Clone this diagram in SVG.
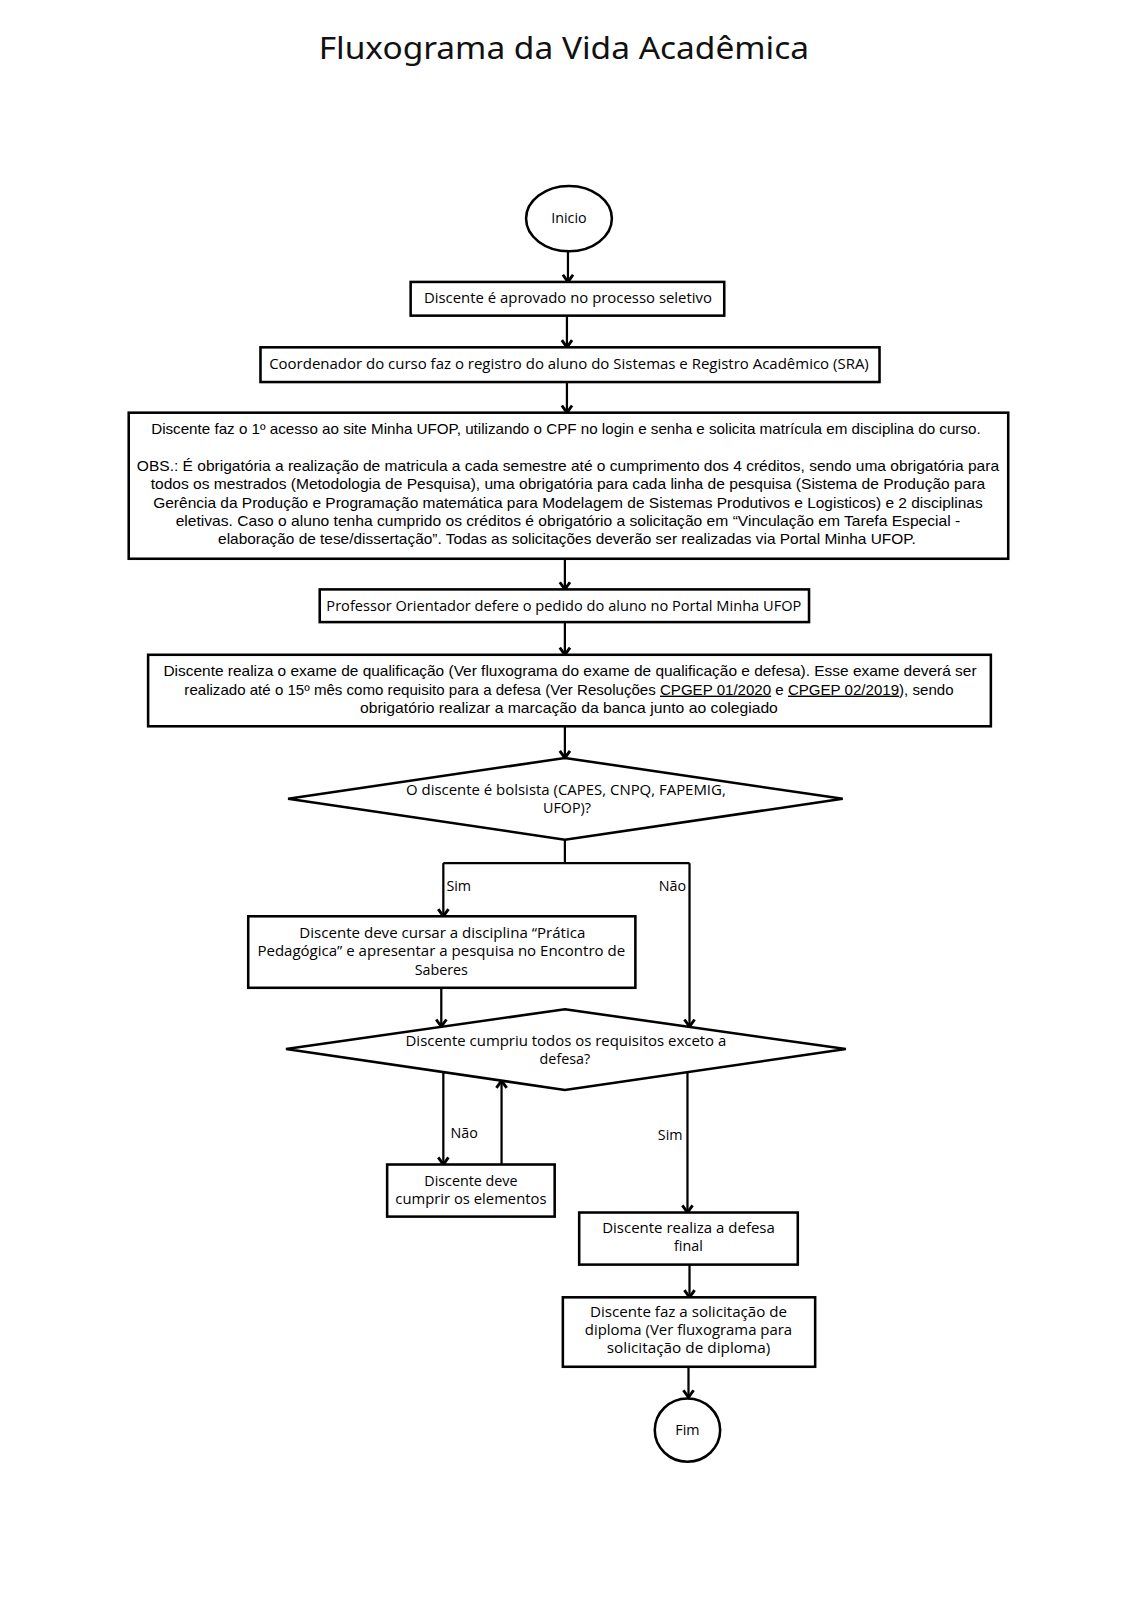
<svg xmlns="http://www.w3.org/2000/svg" width="1131" height="1600" viewBox="0 0 1131 1600">
<style>
.bg{fill:#ffffff}
.box{fill:#ffffff;stroke:#000;stroke-width:2.5}
.t{font-family:"Open Sans","Liberation Sans",Arial,sans-serif;font-size:14px;fill:#000;text-anchor:middle}
.t2{font-family:"Liberation Sans",Arial,sans-serif;font-size:13.5px;fill:#000;text-anchor:middle}
.lbl{font-family:"Open Sans","Liberation Sans",Arial,sans-serif;font-size:14px;fill:#000}
.title{font-family:"Noto Sans",sans-serif;font-size:30px;fill:#111;text-anchor:middle}
.c{fill:none;stroke:#000;stroke-width:2.2}
.a{marker-end:url(#arr)}
</style>
<defs>
<marker id="arr" markerUnits="userSpaceOnUse" markerWidth="14" markerHeight="14" refX="8" refY="6" orient="auto" overflow="visible">
<path d="M1,1 L8,6 L1,11" fill="none" stroke="#000" stroke-width="2.8"/>
</marker>
</defs>
<rect class="bg" x="0" y="0" width="1131" height="1600"/>
<g transform="scale(1.0215)">
<text class="title" x="552" y="58" textLength="480" lengthAdjust="spacingAndGlyphs">Fluxograma da Vida Acadêmica</text>

<g id="connectors">
<path class="c a" d="M556,246 V276"/>
<path class="c a" d="M555,309 V340"/>
<path class="c a" d="M555,374 V404"/>
<path class="c a" d="M553,547 V577"/>
<path class="c a" d="M553,609 V641"/>
<path class="c a" d="M553,711 V742"/>
<path class="c" d="M553,822 V845"/>
<path class="c" d="M434,845 H675"/>
<path class="c a" d="M434,845 V897"/>
<path class="c a" d="M675,845 V1005"/>
<path class="c a" d="M432,967 V1005"/>
<path class="c a" d="M434,1050 V1140"/>
<path class="c a" d="M491,1140 V1058"/>
<path class="c a" d="M673,1050 V1187"/>
<path class="c a" d="M675,1238 V1270"/>
<path class="c a" d="M674,1338 V1368"/>
<text class="lbl" x="437" y="872">Sim</text>
<text class="lbl" x="645" y="872">Não</text>
<text class="lbl" x="441" y="1114">Não</text>
<text class="lbl" x="644" y="1116">Sim</text>
</g>

<g id="inicio">
<ellipse class="box" cx="557" cy="214" rx="42" ry="32"/>
<text class="t" x="557" y="218.5">Inicio</text>
</g>

<g id="aprovado">
<rect class="box" x="402" y="276" width="307" height="33"/>
<text class="t" x="556" y="297" textLength="282" lengthAdjust="spacingAndGlyphs">Discente é aprovado no processo seletivo</text>
</g>

<g id="registro">
<rect class="box" x="255" y="340" width="606" height="34"/>
<text class="t" x="557" y="361" textLength="587" lengthAdjust="spacingAndGlyphs">Coordenador do curso faz o registro do aluno do Sistemas e Registro Acadêmico (SRA)</text>
</g>

<g id="acesso">
<rect class="box" x="126" y="404" width="861" height="143"/>
<text class="t2" x="554" y="425" textLength="812" lengthAdjust="spacingAndGlyphs">Discente faz o 1º acesso ao site Minha UFOP, utilizando o CPF no login e senha e solicita matrícula em disciplina do curso.</text>
<text class="t2" x="556" y="461" textLength="844" lengthAdjust="spacingAndGlyphs">OBS.: É obrigatória a realização de matricula a cada semestre até o cumprimento dos 4 créditos, sendo uma obrigatória para</text>
<text class="t2" x="556" y="479" textLength="817" lengthAdjust="spacingAndGlyphs">todos os mestrados (Metodologia de Pesquisa), uma obrigatória para cada linha de pesquisa (Sistema de Produção para</text>
<text class="t2" x="556" y="497" textLength="812" lengthAdjust="spacingAndGlyphs">Gerência da Produção e Programação matemática para Modelagem de Sistemas Produtivos e Logisticos) e 2 disciplinas</text>
<text class="t2" x="556" y="515" textLength="768" lengthAdjust="spacingAndGlyphs">eletivas. Caso o aluno tenha cumprido os créditos é obrigatório a solicitação em “Vinculação em Tarefa Especial -</text>
<text class="t2" x="555" y="533" textLength="683" lengthAdjust="spacingAndGlyphs">elaboração de tese/dissertação”. Todas as solicitações deverão ser realizadas via Portal Minha UFOP.</text>
</g>

<g id="professor">
<rect class="box" x="313" y="577" width="479" height="32"/>
<text class="t" x="552" y="598" textLength="465" lengthAdjust="spacingAndGlyphs">Professor Orientador defere o pedido do aluno no Portal Minha UFOP</text>
</g>

<g id="qualificacao">
<rect class="box" x="145" y="641" width="825" height="70"/>
<text class="t2" x="558" y="662" textLength="796" lengthAdjust="spacingAndGlyphs">Discente realiza o exame de qualificação (Ver fluxograma do exame de qualificação e defesa). Esse exame deverá ser</text>
<text class="t2" x="557" y="680" textLength="753" lengthAdjust="spacingAndGlyphs">realizado até o 15º mês como requisito para a defesa (Ver Resoluções <tspan text-decoration="underline">CPGEP 01/2020</tspan> e <tspan text-decoration="underline">CPGEP 02/2019</tspan>), sendo</text>
<text class="t2" x="557" y="698" textLength="409" lengthAdjust="spacingAndGlyphs">obrigatório realizar a marcação da banca junto ao colegiado</text>
</g>

<g id="bolsista">
<polygon class="box" points="553,742 825,782 553,822 282,782"/>
<text class="t" x="554" y="778" textLength="313" lengthAdjust="spacingAndGlyphs">O discente é bolsista (CAPES, CNPQ, FAPEMIG,</text>
<text class="t" x="555" y="796">UFOP)?</text>
</g>

<g id="pratica">
<rect class="box" x="243" y="897" width="379" height="70"/>
<text class="t" x="433" y="918" textLength="280" lengthAdjust="spacingAndGlyphs">Discente deve cursar a disciplina “Prática</text>
<text class="t" x="432" y="936" textLength="360" lengthAdjust="spacingAndGlyphs">Pedagógica” e apresentar a pesquisa no Encontro de</text>
<text class="t" x="432" y="954">Saberes</text>
</g>

<g id="requisitos">
<polygon class="box" points="553,988 828,1027 553,1067 280,1027"/>
<text class="t" x="554" y="1024" textLength="314" lengthAdjust="spacingAndGlyphs">Discente cumpriu todos os requisitos exceto a</text>
<text class="t" x="553" y="1042">defesa?</text>
</g>

<g id="cumprir">
<rect class="box" x="379" y="1140" width="164" height="51"/>
<text class="t" x="461" y="1161">Discente deve</text>
<text class="t" x="461" y="1179" textLength="148" lengthAdjust="spacingAndGlyphs">cumprir os elementos</text>
</g>

<g id="defesa">
<rect class="box" x="567" y="1187" width="214" height="51"/>
<text class="t" x="674" y="1207" textLength="169" lengthAdjust="spacingAndGlyphs">Discente realiza a defesa</text>
<text class="t" x="674" y="1225">final</text>
</g>

<g id="diploma">
<rect class="box" x="551" y="1270" width="247" height="68"/>
<text class="t" x="674" y="1289" textLength="193" lengthAdjust="spacingAndGlyphs">Discente faz a solicitação de</text>
<text class="t" x="674" y="1307" textLength="203" lengthAdjust="spacingAndGlyphs">diploma (Ver fluxograma para</text>
<text class="t" x="674" y="1325" textLength="160" lengthAdjust="spacingAndGlyphs">solicitação de diploma)</text>
</g>

<g id="fim">
<ellipse class="box" cx="673" cy="1400" rx="32" ry="31"/>
<text class="t" x="673" y="1404.5">Fim</text>
</g>
</g>
</svg>
